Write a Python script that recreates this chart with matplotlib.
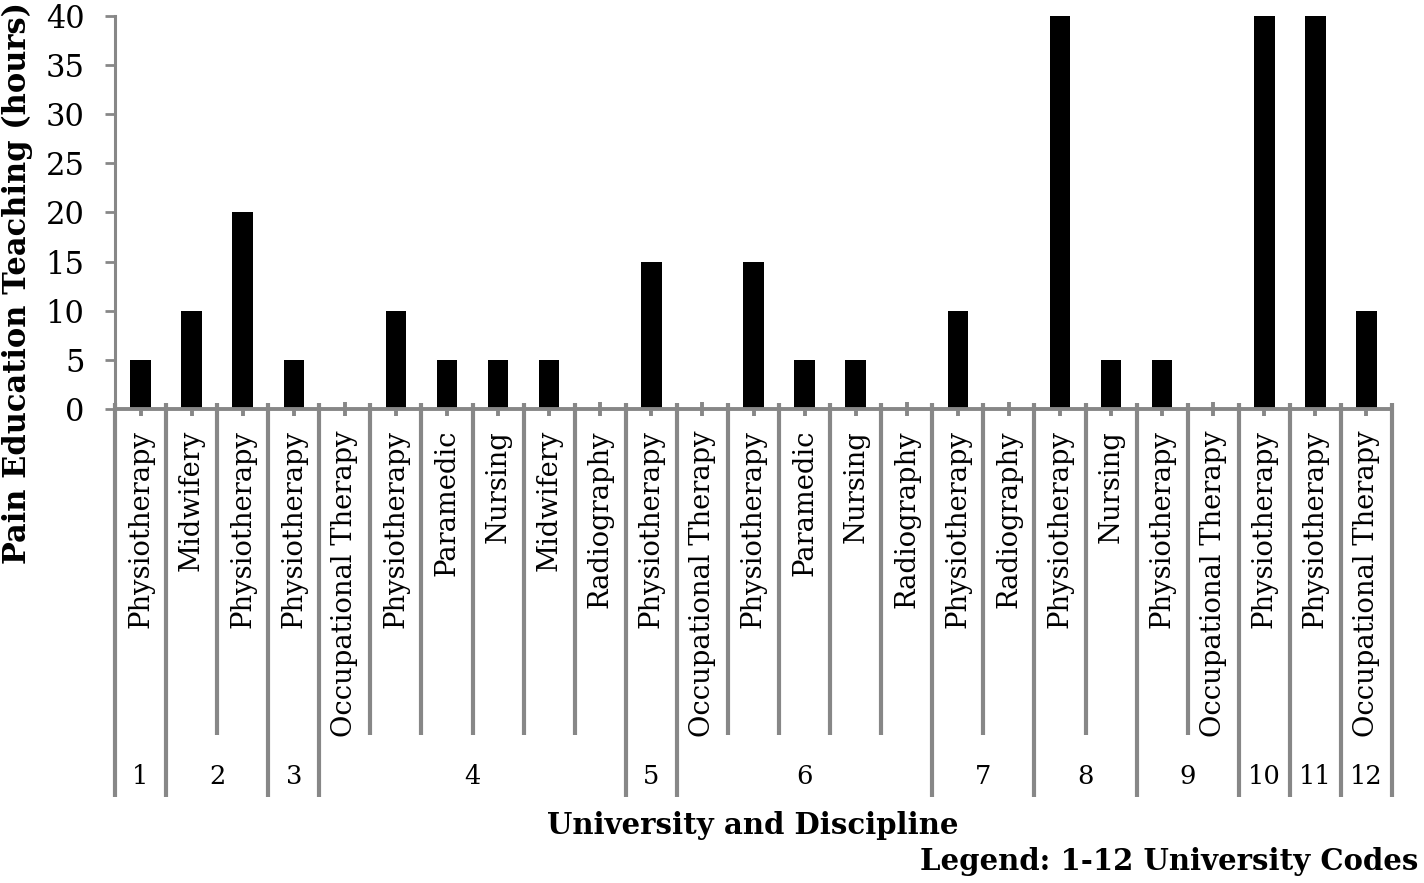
import numpy as np
import matplotlib
matplotlib.use("Agg")
import matplotlib.pyplot as plt
import matplotlib.transforms as mtransforms

# data
disciplines = ["Physiotherapy", "Midwifery", "Physiotherapy", "Physiotherapy",
               "Occupational Therapy", "Physiotherapy", "Paramedic", "Nursing",
               "Midwifery", "Radiography", "Physiotherapy", "Occupational Therapy",
               "Physiotherapy", "Paramedic", "Nursing", "Radiography",
               "Physiotherapy", "Radiography", "Physiotherapy", "Nursing",
               "Physiotherapy", "Occupational Therapy", "Physiotherapy",
               "Physiotherapy", "Occupational Therapy"]
hours = [5, 10, 20, 5, 0, 10, 5, 5, 5, 0, 15, 0, 15, 5, 5, 0, 10, 0, 40, 5, 5, 0, 40, 40, 10]
uni_codes = ["1", "2", "3", "4", "5", "6", "7", "8", "9", "10", "11", "12"]
uni_sizes = [1, 2, 1, 6, 1, 5, 2, 2, 2, 1, 1, 1]   # number of disciplines per university

plt.rcParams['font.family'] = ['DejaVu Serif']
gray = "#878787"

fig = plt.figure(figsize=(14.24, 8.83), dpi=100)
ax = fig.add_axes([115/1424, 1-409/883, (1392-115)/1424, (409-16)/883])

x = np.arange(len(hours))
ax.bar(x, hours, width=0.4, color="black", zorder=2)
ax.set_xlim(-0.5, len(hours)-0.5)
ax.set_ylim(0, 40)
ax.set_yticks(np.arange(0, 41, 5))
ax.tick_params(axis="y", labelsize=22, length=7, width=2, color=gray, pad=15)
ax.set_xticks(x)
ax.set_xticklabels([])
ax.tick_params(axis="x", direction="inout", length=10, width=2.8, color=gray)

for s in ["top", "right"]:
    ax.spines[s].set_visible(False)
ax.spines["left"].set_color(gray)
ax.spines["left"].set_linewidth(2.2)
ax.spines["bottom"].set_color(gray)
ax.spines["bottom"].set_linewidth(2.8)
ax.spines["bottom"].set_zorder(3)

# x data / y axes-fraction transform for the category table under the axis
trans = mtransforms.blended_transform_factory(ax.transData, ax.transAxes)
h = 393.0  # axes height in px
y_top = 6/h
y_inner = -(735-409)/h
y_outer = -(797-409)/h

# group edges
edges = np.concatenate([[0], np.cumsum(uni_sizes)]) - 0.5
for i in range(len(hours)+1):
    b = i - 0.5
    yb = y_outer if b in edges else y_inner
    ax.plot([b, b], [y_top, yb], color=gray, lw=3, transform=trans, clip_on=False,
            solid_capstyle="butt", zorder=1)

# discipline labels
for i, name in enumerate(disciplines):
    ax.text(i, -(430-409)/h, name, rotation=90, ha="center", va="top",
            fontsize=19.7, transform=trans, clip_on=False)

# university codes
for k, code in enumerate(uni_codes):
    c = (edges[k] + edges[k+1]) / 2
    ax.text(c, -(777-409)/h, code, ha="center", va="center", fontsize=18.5,
            transform=trans, clip_on=False)

ax.set_ylabel("Pain Education Teaching (hours)", fontsize=22, fontweight="bold")
ax.yaxis.set_label_coords((33-115)/1277, (409-283)/h)
fig.text(753/1424, 1-825/883, "University and Discipline", ha="center", va="center",
         fontsize=21, fontweight="bold")
fig.text(1418/1424, 1-862/883, "Legend: 1-12 University Codes", ha="right", va="center",
         fontsize=21, fontweight="bold")

plt.savefig("out.png", dpi=100)
